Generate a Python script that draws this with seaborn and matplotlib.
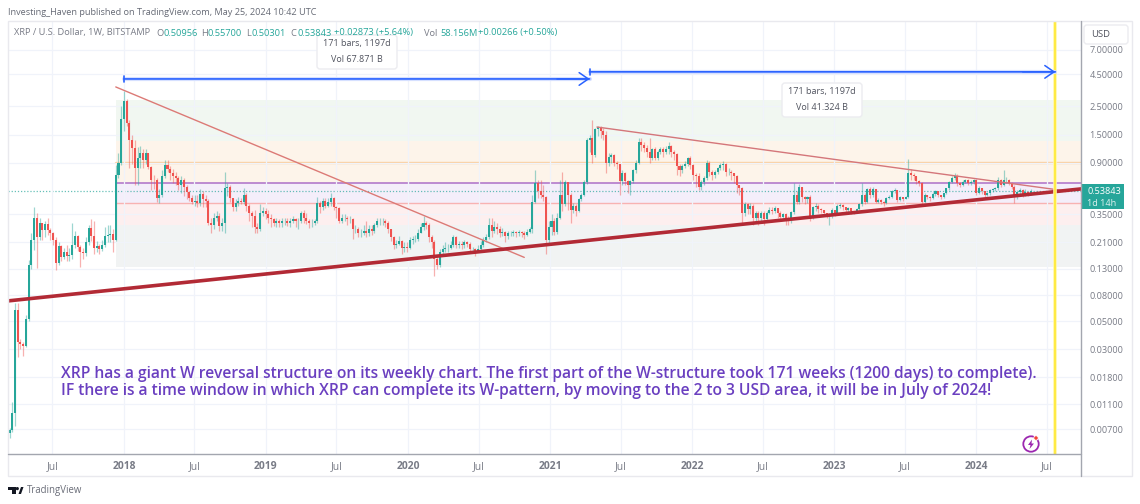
import pandas as pd
import matplotlib
matplotlib.use("Agg")
import matplotlib.pyplot as plt
import seaborn as sns
from matplotlib.patches import FancyBboxPatch, Rectangle, Circle, Polygon
from matplotlib.ticker import NullLocator
from matplotlib.transforms import Affine2D

# weekly XRP/USD
closes = [
    .0069, .0094, .0614, .034, .033, .032, .052, .14, .22, .33,
    .23, .30, .265, .295, .265, .25, .22, .145, .197, .16,
    .178, .163, .168, .20, .235, .195, .178, .172, .21, .275,
    .235, .19, .197, .187, .20, .235, .24, .245, .22, .72,
    .90, 1.98, 2.75, 1.85, 1.36, 1.17, .82, .97, 1.07, .94,
    1.07, .83, .66, .65, .47, .50, .70, .86, .80, .74,
    .70, .68, .60, .66, .58, .53, .47, .44, .45, .43,
    .51, .46, .45, .30, .29, .33, .34, .285, .30, .57,
    .58, .47, .40, .43, .45, .44, .50, .41, .36, .34,
    .28, .27, .36, .37, .35, .33, .32, .30, .31, .30,
    .31, .31, .30, .31, .32, .31, .31, .36, .33, .31,
    .30, .30, .31, .43, .40, .45, .41, .44, .47, .40,
    .39, .31, .33, .33, .32, .32, .27, .27, .25, .25,
    .26, .25, .27, .26, .29, .31, .31, .31, .30, .27,
    .23, .20, .205, .215, .19, .195, .19, .22, .225, .225,
    .25, .28, .30, .29, .23, .21, .155, .14, .175, .185,
    .19, .19, .20, .23, .20, .205, .20, .21, .205, .185,
    .185, .18, .185, .20, .22, .23, .29, .26, .28, .27,
    .25, .255, .235, .25, .25, .255, .25, .255, .25, .24,
    .255, .27, .44, .62, .54, .50, .48, .22, .28, .31,
    .255, .33, .50, .42, .63, .50, .38, .41, .37, .46,
    .50, .63, 1.36, 1.42, 1.03, 1.66, 1.72, 1.60, 1.50, .90,
    1.0, 1.03, .90, .87, .64, .75, .64, .60, .64, .78,
    .90, 1.32, 1.25, 1.17, 1.10, .98, 1.16, .98, 1.10, 1.16,
    1.10, 1.16, 1.22, 1.10, 1.05, .84, .78, .84, .87, .97,
    .86, .72, .70, .58, .63, .68, .90, .76, .72, .76,
    .81, .86, .87, .76, .76, .74, .70, .60, .57, .36,
    .42, .385, .41, .33, .36, .33, .36, .32, .36, .38,
    .375, .39, .36, .335, .35, .325, .32, .365, .50, .44,
    .58, .48, .46, .48, .33, .40, .405, .385, .38, .36,
    .35, .35, .38, .36, .41, .415, .40, .38, .39, .37,
    .365, .385, .42, .50, .44, .56, .50, .56, .44, .457,
    .44, .43, .47, .48, .54, .55, .457, .48, .465, .48,
    .74, .72, .70, .64, .62, .44, .50, .48, .47, .51,
    .535, .50, .48, .515, .565, .63, .68, .70, .62, .60,
    .635, .66, .62, .63, .66, .52, .565, .535, .50, .515,
    .55, .56, .565, .66, .60, .66, .66, .62, .58, .48,
    .53, .55, .50, .53, .5096, .5384,
]
highs = [
    .0072, .0114, .07, .07, .036, .034, .056, .153, .25, .40,
    .36, .33, .30, .31, .33, .275, .255, .23, .21, .20,
    .19, .20, .19, .30, .26, .24, .20, .19, .23, .29,
    .32, .31, .215, .205, .22, .28, .29, .29, .27, .86,
    1.08, 2.5, 3.3, 2.85, 1.95, 1.5, 1.36, 1.2, 1.22, 1.15,
    1.15, 1.08, .85, .72, .68, .56, .78, .94, .95, .84,
    .80, .76, .70, .70, .68, .60, .54, .50, .50, .50,
    .56, .54, .50, .46, .33, .36, .37, .36, .33, .76,
    .62, .60, .47, .46, .48, .47, .57, .52, .42, .37,
    .38, .30, .42, .40, .39, .38, .35, .33, .33, .32,
    .33, .33, .33, .33, .34, .33, .33, .37, .38, .36,
    .32, .32, .32, .48, .45, .47, .47, .47, .52, .48,
    .41, .40, .35, .35, .34, .34, .33, .29, .28, .27,
    .29, .31, .29, .29, .30, .33, .33, .33, .32, .31,
    .27, .235, .22, .235, .22, .21, .21, .23, .235, .24,
    .27, .30, .34, .31, .30, .24, .22, .165, .185, .20,
    .21, .205, .215, .24, .235, .215, .215, .22, .215, .21,
    .195, .19, .20, .215, .23, .245, .33, .33, .31, .30,
    .285, .275, .26, .26, .26, .265, .26, .265, .26, .26,
    .27, .28, .50, .78, .66, .66, .60, .49, .31, .35,
    .33, .36, .66, .76, .65, .63, .52, .43, .42, .47,
    .52, .66, 1.42, 1.5, 1.96, 1.68, 1.76, 1.75, 1.68, 1.6,
    1.08, 1.07, 1.05, .93, .87, .78, .76, .66, .66, .80,
    .95, 1.40, 1.41, 1.3, 1.25, 1.41, 1.18, 1.2, 1.14, 1.2,
    1.19, 1.22, 1.32, 1.25, 1.13, 1.07, .88, .88, .92, 1.0,
    1.02, .87, .74, .74, .66, .70, .94, .92, .78, .78,
    .83, .89, .92, .90, .81, .78, .74, .72, .60, .58,
    .44, .43, .43, .42, .37, .37, .37, .37, .37, .40,
    .40, .41, .39, .37, .36, .36, .34, .37, .62, .54,
    .61, .58, .49, .49, .50, .41, .43, .42, .39, .38,
    .36, .36, .39, .38, .42, .43, .42, .40, .40, .38,
    .37, .39, .43, .62, .52, .57, .58, .58, .56, .47,
    .46, .45, .48, .50, .55, .57, .55, .49, .48, .49,
    .96, .80, .74, .71, .65, .63, .52, .50, .49, .53,
    .55, .54, .50, .52, .57, .64, .71, .74, .73, .63,
    .65, .67, .67, .65, .67, .67, .59, .57, .54, .53,
    .56, .57, .58, .69, .67, .78, .69, .67, .63, .60,
    .545, .57, .56, .56, .54, .557,
]
lows = [
    .0060, .0066, .0074, .026, .030, .0265, .031, .05, .13, .184,
    .133, .22, .22, .23, .24, .22, .20, .128, .14, .15,
    .155, .15, .15, .155, .19, .18, .135, .155, .165, .20,
    .215, .17, .175, .17, .18, .195, .21, .21, .175, .215,
    .68, .86, 1.6, 1.75, .82, .88, .60, .60, .82, .82,
    .87, .80, .55, .56, .435, .43, .48, .68, .76, .66,
    .62, .60, .55, .52, .49, .46, .45, .42, .41, .40,
    .41, .40, .40, .29, .25, .27, .31, .26, .26, .25,
    .49, .44, .37, .37, .41, .42, .42, .37, .31, .28,
    .25, .25, .26, .34, .32, .30, .28, .285, .28, .28,
    .28, .29, .285, .28, .30, .28, .27, .30, .30, .295,
    .275, .28, .29, .30, .36, .38, .39, .40, .41, .38,
    .33, .30, .30, .31, .29, .30, .225, .25, .23, .23,
    .24, .23, .235, .24, .25, .28, .29, .29, .28, .25,
    .215, .185, .19, .20, .17, .175, .175, .185, .205, .21,
    .215, .25, .265, .27, .21, .19, .115, .13, .135, .165,
    .175, .175, .185, .195, .19, .19, .185, .19, .195, .175,
    .175, .165, .175, .18, .195, .21, .225, .23, .25, .245,
    .23, .235, .21, .225, .235, .235, .23, .235, .23, .225,
    .235, .25, .25, .43, .47, .47, .45, .17, .20, .24,
    .24, .245, .32, .37, .41, .38, .30, .36, .34, .365,
    .45, .49, .61, 1.1, .90, 1.0, 1.45, 1.4, 1.35, .75,
    .85, .90, .85, .80, .50, .60, .60, .52, .50, .62,
    .75, .88, 1.12, 1.1, 1.0, .9, .95, .95, .95, 1.05,
    1.0, 1.05, 1.05, 1.0, .95, .72, .70, .75, .82, .84,
    .80, .66, .58, .55, .55, .60, .66, .70, .66, .68,
    .73, .79, .79, .70, .72, .66, .62, .52, .50, .30,
    .34, .35, .35, .29, .31, .29, .30, .29, .31, .35,
    .35, .36, .33, .31, .32, .29, .29, .30, .35, .42,
    .42, .44, .42, .43, .31, .32, .37, .36, .36, .34,
    .33, .29, .33, .34, .35, .39, .38, .36, .36, .35,
    .355, .36, .38, .41, .42, .43, .47, .48, .43, .43,
    .42, .41, .42, .46, .47, .52, .44, .45, .45, .46,
    .47, .65, .65, .61, .59, .42, .43, .46, .45, .46,
    .49, .48, .46, .47, .51, .55, .62, .66, .59, .58,
    .59, .62, .60, .60, .61, .50, .51, .51, .48, .49,
    .50, .53, .54, .55, .58, .59, .62, .60, .56, .43,
    .46, .51, .48, .49, .49, .503,
]
first_open = .0065
last_week = "2024-05-20"

price_ticks = [7, 4.5, 2.5, 1.5, .9, .35, .21, .13, .08, .05, .03, .018, .011, .007]
month_ticks = ["2017-07-01", "2018-01-01", "2018-07-01", "2019-01-01", "2019-07-01", "2020-01-01",
               "2020-07-01", "2021-01-01", "2021-07-01", "2022-01-01", "2022-07-01", "2023-01-01",
               "2023-07-01", "2024-01-01", "2024-07-01"]
month_labels = ["Jul", "2018", "Jul", "2019", "Jul", "2020", "Jul", "2021", "Jul", "2022", "Jul",
                "2023", "Jul", "2024", "Jul"]

# coloured zones: low, high, colour
zone_edges = [2.8, 1.33, .62, .43, .29, .135]
zone_colors = ["#f1f7f1", "#fdf4ea", "#f4eefa", "#fdefef", "#f1f3f3"]
levels = [.9, .62, .43]
level_colors = ["#fbcf9f", "#ad6fc8", "#f8b2b2"]
level_widths = [1.7, 1.1, 1.0]

trend_main_prices = [.0724, .557]
trend_down_prices = [3.57, .16]
trend_flat_prices = [1.72, .54]
measure_prices = [4.13, 4.7]

GREEN = "#26a69a"
RED = "#ef5350"
GREY = "#787b86"
PURPLE = "#6a3fc0"
W, H = 1140, 504

sns.set_theme(style="white")
plt.rcParams["font.family"] = ["Open Sans", "DejaVu Sans"]

df = pd.DataFrame({"close": closes, "high": highs, "low": lows})
df["date"] = pd.date_range(end=last_week, periods=len(df), freq="7D")
df["open"] = df["close"].shift(1).fillna(first_open)
df["up"] = df["close"] >= df["open"]


def week(k):
    return df["date"].iloc[0] + pd.Timedelta(weeks=k)


fig = plt.figure(figsize=(W / 100, H / 100), dpi=100, facecolor="white")
px = Affine2D().scale(1, -1).translate(0, H)  # layout in picture pixels, y down
ax = fig.add_axes([8 / W, 1 - 454 / H, (1081 - 8) / W, (454 - 21) / H])
ax.set_yscale("log")
ax.set_xlim(pd.Timestamp("2017-03-09"), pd.Timestamp("2024-09-26"))
ax.set_ylim(.00445, 11.87)

# zones and horizontal levels start at the big 2017 candle
zone_x = [week(39), pd.Timestamp("2024-09-26")]
for i, c in enumerate(zone_colors):
    ax.fill_between(zone_x, zone_edges[i + 1], zone_edges[i], color=c, lw=0, zorder=1)
for lv, c, w in zip(levels, level_colors, level_widths):
    sns.lineplot(x=zone_x, y=[lv, lv], color=c, lw=w, ax=ax, zorder=2)

ax.grid(True, color="#f0f3fa", lw=.9, zorder=1.5)
ax.set_axisbelow(False)
for line in ax.get_xgridlines() + ax.get_ygridlines():
    line.set_zorder(1.5)

ax.axhline(closes[-1], color=GREEN, lw=.9, ls=(0, (1, 1.5)), alpha=.7, zorder=2)

# candles
for up, c in [(True, GREEN), (False, RED)]:
    d = df[df["up"] == up]
    ax.vlines(d["date"], d["low"], d["high"], color=c, lw=.9, alpha=.45, zorder=3)
    body_lo = d[["open", "close"]].min(axis=1)
    body_hi = d[["open", "close"]].max(axis=1)
    ax.bar(d["date"], body_hi - body_lo, bottom=body_lo, width=5.2, color=c, lw=0, zorder=4)

sns.lineplot(x=[week(39), week(189)], y=trend_down_prices, color="#dc7a76", lw=1.0, ax=ax, zorder=5)
sns.lineplot(x=[week(215.7), week(387)], y=trend_flat_prices, color="#d4767a", lw=1.0, ax=ax, zorder=5)
sns.lineplot(x=[pd.Timestamp("2017-03-09"), pd.Timestamp("2024-09-26")], y=trend_main_prices,
             color="#b22a35", lw=2.6, ax=ax, zorder=6)

ax.axvline(week(384), color="#fff7a8", lw=2.6, zorder=6)
ax.axvline(week(384), color="#ffe93b", lw=1.3, zorder=6)

# 171-bar measures
for k0, k1, p in [(42, 213, measure_prices[0]), (213, 384, measure_prices[1])]:
    sns.lineplot(x=[week(k0), week(k1)], y=[p, p], color="#d6e0ff", lw=3, ax=ax, zorder=6.5)
    ax.annotate("", xy=(week(k1), p), xytext=(week(k0), p), zorder=7,
                arrowprops=dict(arrowstyle="|-|,widthA=.18,widthB=0", color="#2962ff", lw=1.2,
                                shrinkA=0, shrinkB=0))
    ax.annotate("", xy=(week(k1), p), xytext=(week(k1 - 12), p), zorder=7,
                arrowprops=dict(arrowstyle="->,head_length=.55,head_width=.38", color="#2962ff",
                                lw=1.1, shrinkA=0, shrinkB=0))

for s in ax.spines.values():
    s.set_visible(False)
ax.yaxis.tick_right()
ax.yaxis.set_minor_locator(NullLocator())
ax.set_yticks(price_ticks, [f"{p:.5f}" for p in price_ticks])
ax.set_xticks(pd.to_datetime(month_ticks), month_labels)
ax.tick_params(axis="both", length=0, colors=GREY)
ax.tick_params(axis="y", pad=6, labelsize=6.6)
ax.tick_params(axis="x", pad=5, labelsize=7.4)
for t in ax.get_xticklabels():
    if t.get_text() != "Jul":
        t.set_fontweight("bold")
ax.set_xlabel("")
ax.set_ylabel("")
leg = ax.get_legend()
if leg:
    leg.remove()

# frame around chart and price scale
fig.add_artist(Rectangle((8, 21), 1124, 455, transform=px, fill=False, ec="#e9e9ee", lw=1))
fig.add_artist(plt.Line2D([8, 1081], [454, 454], transform=px, color="#a3a6af", lw=1))
fig.add_artist(plt.Line2D([1081, 1081], [21, 476], transform=px, color="#a3a6af", lw=1))

fig.text(8, 12.5, "Investing_Haven published on TradingView.com, May 25, 2024 10:42 UTC",
         transform=px, color="#666a75", fontsize=6.55, va="center")

# callouts
for x0, y0, x1, y1, l1, l2 in [(317, 35, 397, 69, "171 bars, 1197d", "Vol 67.871 B"),
                               (782, 83, 862, 117, "171 bars, 1197d", "Vol 41.324 B")]:
    fig.add_artist(FancyBboxPatch((x0, y0), x1 - x0, y1 - y0, transform=px, fc="white", ec="#ececf0",
                                  lw=1, boxstyle="round,pad=0,rounding_size=3"))
    fig.text((x0 + x1) / 2, y0 + 8.5, l1, transform=px, color="#50535e", fontsize=6.5, ha="center", va="center")
    fig.text((x0 + x1) / 2, y0 + 25, l2, transform=px, color="#50535e", fontsize=6.5, ha="center", va="center")

# OHLC legend row
legend_row = [
    (14, "XRP / U.S. Dollar, 1W, BITSTAMP", GREY), (156, "O", GREY), (163, "0.50956", GREEN),
    (201, "H", GREY), (208, "0.55700", GREEN), (246, "L", GREY), (252, "0.50301", GREEN),
    (290, "C", GREY), (297, "0.53843", GREEN), (334, "+0.02873 (+5.64%)", GREEN),
    (424, "Vol", GREY), (440, "58.156M", GREEN), (478, "+0.00266 (+0.50%)", GREEN),
]
for x, s, c in legend_row:
    fig.text(x, 33, s, transform=px, color=c, fontsize=6.65, va="center")

# the text on the chart
fig.text(61, 374.5, "XRP has a giant W reversal structure on its weekly chart. The first part of the "
         "W-structure took 171 weeks (1200 days) to complete).", transform=px, color=PURPLE,
         fontsize=11.23, va="center", fontweight="semibold")
fig.text(61, 391, "IF there is a time window in which XRP can complete its W-pattern, by moving to "
         "the 2 to 3 USD area, it will be in July of 2024!", transform=px, color=PURPLE,
         fontsize=11.23, va="center", fontweight="semibold")

# price scale extras
fig.add_artist(FancyBboxPatch((1084, 25), 44, 19, transform=px, fc="white", ec="#ececf0", lw=1,
                              boxstyle="round,pad=0,rounding_size=3"))
fig.text(1091, 34.5, "USD", transform=px, color="#50535e", fontsize=6.8, ha="left", va="center")
fig.add_artist(Rectangle((1081, 184), 43, 25, transform=px, fc=GREEN, ec="none"))
fig.text(1087, 191, "0.53843", transform=px, color="white", fontsize=6.6, va="center")
fig.text(1087, 203, "1d 14h", transform=px, color="white", fontsize=6.6, va="center", alpha=.85)

# lightning badge
fig.add_artist(Circle((1031, 444), 7.7, transform=px, fill=False, ec="#9c27b0", lw=1.3))
fig.add_artist(Polygon([(1032, 439.5), (1028, 445), (1030.5, 445), (1029.5, 449), (1034, 443.5), (1031.5, 443.5)],
                       transform=px, fc="#9c27b0", ec="none"))
fig.add_artist(Circle((1036, 438), 2.2, transform=px, fc="#f44336", ec="white", lw=.6))

# footer logo
for pts in [[(8, 487), (15.5, 487), (15.5, 494), (11.5, 494), (11.5, 490.2), (8, 490.2)],
            [(18.5, 494), (21, 487), (23.5, 487), (21, 494)]]:
    fig.add_artist(Polygon(pts, transform=px, fc="#131722", ec="none"))
fig.add_artist(Circle((17.3, 488.6), 1.6, transform=px, fc="#131722", ec="none"))
fig.text(27, 490.5, "TradingView", transform=px, color="#6a6d78", fontsize=6.9, va="center")

fig.savefig("out.png", dpi=100)
